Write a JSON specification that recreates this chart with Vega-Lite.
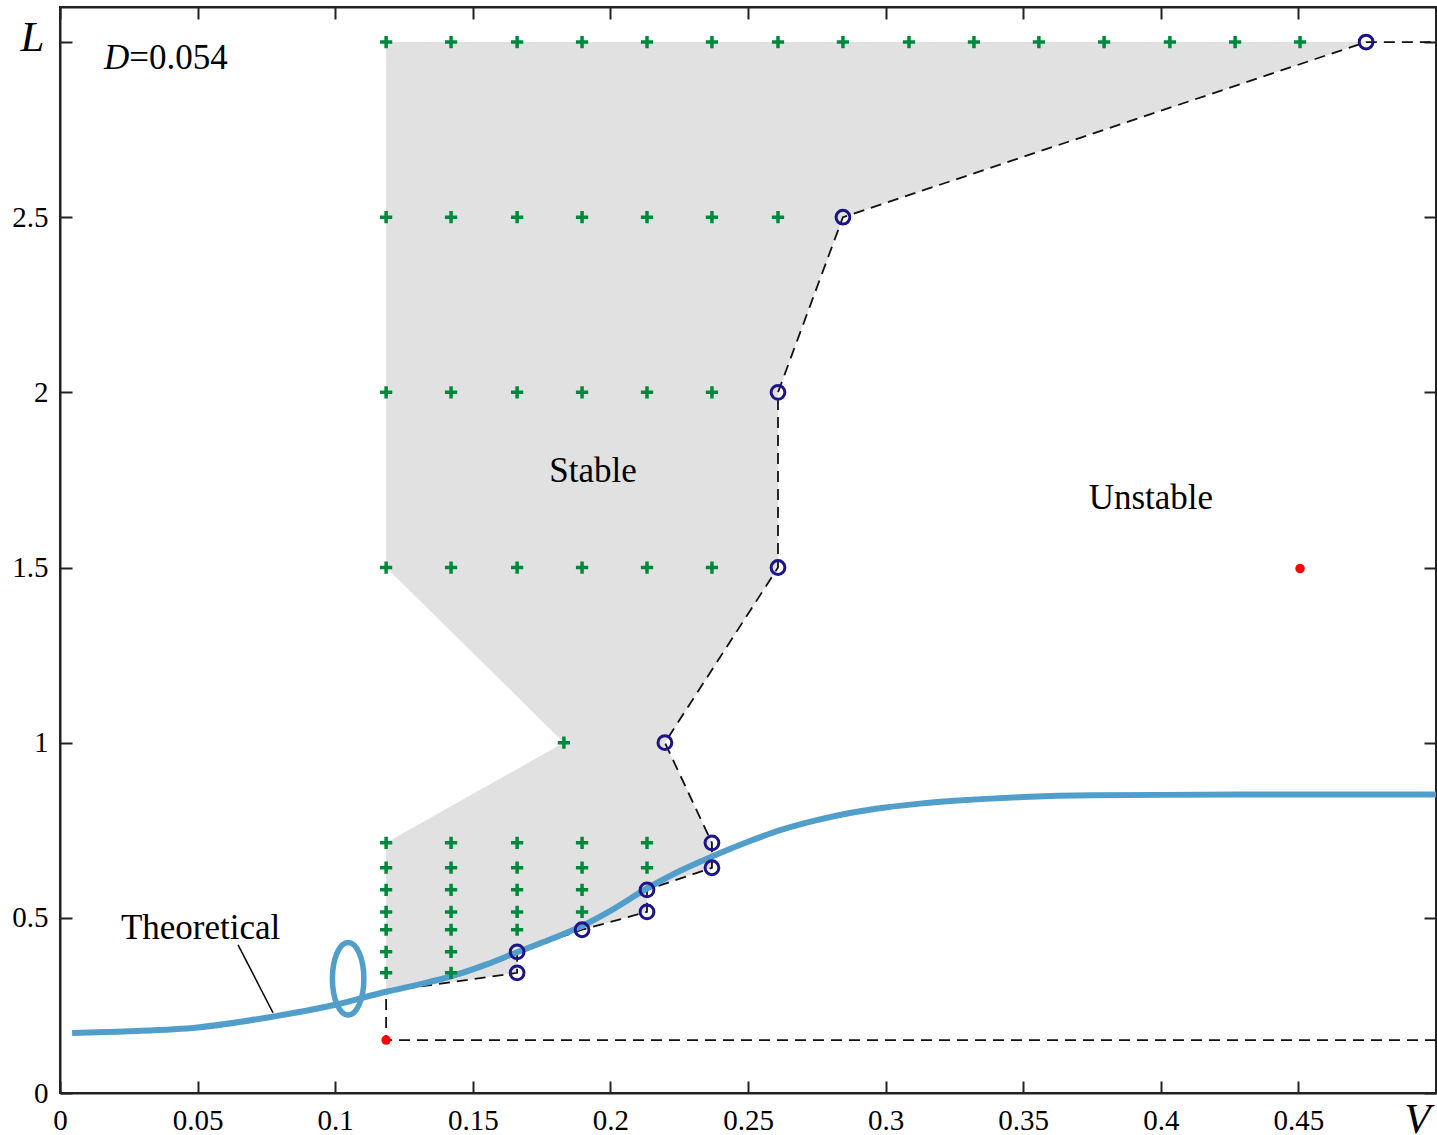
{
  "$schema": "https://vega.github.io/schema/vega-lite/v6.json",
  "width": 1376,
  "height": 1086,
  "autosize": "none",
  "padding": {"left": 60, "top": 7, "right": 1, "bottom": 42},
  "background": "white",
  "config": {
    "view": {"stroke": "#222222", "strokeWidth": 2},
    "axis": {"grid": false, "domainColor": "#222222", "domainWidth": 2, "tickColor": "#222222", "tickWidth": 2, "tickSize": -12,
      "labelFont": "Liberation Serif", "labelFontSize": 29, "labelColor": "#000000", "labelFlush": false, "labelOverlap": false,
      "titleFont": "Liberation Serif", "titleFontStyle": "italic", "titleFontWeight": "normal", "titleFontSize": 43, "titleColor": "#000000"}
  },
  "datasets": {
    "plus": [
      {"V": 0.1185, "L": 3.0}, {"V": 0.1421, "L": 3.0}, {"V": 0.1661, "L": 3.0}, {"V": 0.1897, "L": 3.0}, {"V": 0.2133, "L": 3.0},
      {"V": 0.2369, "L": 3.0}, {"V": 0.2609, "L": 3.0}, {"V": 0.2845, "L": 3.0}, {"V": 0.3085, "L": 3.0}, {"V": 0.3321, "L": 3.0},
      {"V": 0.3557, "L": 3.0}, {"V": 0.3794, "L": 3.0}, {"V": 0.4033, "L": 3.0}, {"V": 0.427, "L": 3.0}, {"V": 0.4506, "L": 3.0},
      {"V": 0.1185, "L": 2.5}, {"V": 0.1421, "L": 2.5}, {"V": 0.1661, "L": 2.5}, {"V": 0.1897, "L": 2.5}, {"V": 0.2133, "L": 2.5},
      {"V": 0.2369, "L": 2.5}, {"V": 0.2609, "L": 2.5},
      {"V": 0.1185, "L": 2.0}, {"V": 0.1421, "L": 2.0}, {"V": 0.1661, "L": 2.0}, {"V": 0.1897, "L": 2.0}, {"V": 0.2133, "L": 2.0},
      {"V": 0.2369, "L": 2.0},
      {"V": 0.1185, "L": 1.5}, {"V": 0.1421, "L": 1.5}, {"V": 0.1661, "L": 1.5}, {"V": 0.1897, "L": 1.5}, {"V": 0.2133, "L": 1.5},
      {"V": 0.2369, "L": 1.5},
      {"V": 0.1831, "L": 1.0},
      {"V": 0.1185, "L": 0.714}, {"V": 0.1421, "L": 0.714}, {"V": 0.1661, "L": 0.714}, {"V": 0.1897, "L": 0.714}, {"V": 0.2133, "L": 0.714},
      {"V": 0.1185, "L": 0.643}, {"V": 0.1421, "L": 0.643}, {"V": 0.1661, "L": 0.643}, {"V": 0.1897, "L": 0.643}, {"V": 0.2133, "L": 0.643},
      {"V": 0.1185, "L": 0.58}, {"V": 0.1421, "L": 0.58}, {"V": 0.1661, "L": 0.58}, {"V": 0.1897, "L": 0.58},
      {"V": 0.1185, "L": 0.517}, {"V": 0.1421, "L": 0.517}, {"V": 0.1661, "L": 0.517}, {"V": 0.1897, "L": 0.517},
      {"V": 0.1185, "L": 0.466}, {"V": 0.1421, "L": 0.466}, {"V": 0.1661, "L": 0.466},
      {"V": 0.1185, "L": 0.403}, {"V": 0.1421, "L": 0.403},
      {"V": 0.1185, "L": 0.343}, {"V": 0.1421, "L": 0.343}
    ],
    "circ": [
      {"V": 0.4746, "L": 3.0}, {"V": 0.2845, "L": 2.5}, {"V": 0.2609, "L": 2.0}, {"V": 0.2609, "L": 1.5}, {"V": 0.2198, "L": 1.0},
      {"V": 0.2369, "L": 0.714}, {"V": 0.2369, "L": 0.643}, {"V": 0.2133, "L": 0.58}, {"V": 0.2133, "L": 0.517},
      {"V": 0.1897, "L": 0.466}, {"V": 0.1661, "L": 0.403}, {"V": 0.1661, "L": 0.343}
    ],
    "red": [{"V": 0.1185, "L": 0.151}, {"V": 0.4506, "L": 1.497}],
    "dash": [
      {"o": 1, "V": 0.5, "L": 0.151}, {"o": 2, "V": 0.1185, "L": 0.151}, {"o": 3, "V": 0.1185, "L": 0.29},
      {"o": 4, "V": 0.1661, "L": 0.343}, {"o": 5, "V": 0.1661, "L": 0.403}, {"o": 6, "V": 0.1897, "L": 0.466},
      {"o": 7, "V": 0.2133, "L": 0.517}, {"o": 8, "V": 0.2133, "L": 0.58}, {"o": 9, "V": 0.2369, "L": 0.643},
      {"o": 10, "V": 0.2369, "L": 0.714}, {"o": 11, "V": 0.2198, "L": 1.0}, {"o": 12, "V": 0.2609, "L": 1.5},
      {"o": 13, "V": 0.2609, "L": 2.0}, {"o": 14, "V": 0.2845, "L": 2.5}, {"o": 15, "V": 0.4746, "L": 3.0},
      {"o": 16, "V": 0.5, "L": 3.0}
    ],
    "region": [
      {"L": 0.29, "left": 0.1185, "right": 0.1185}, {"L": 0.343, "left": 0.1185, "right": 0.1661},
      {"L": 0.403, "left": 0.1185, "right": 0.1661}, {"L": 0.466, "left": 0.1185, "right": 0.1897},
      {"L": 0.517, "left": 0.1185, "right": 0.2133}, {"L": 0.58, "left": 0.1185, "right": 0.2133},
      {"L": 0.643, "left": 0.1185, "right": 0.2369}, {"L": 0.714, "left": 0.1185, "right": 0.2369},
      {"L": 1.0, "left": 0.1831, "right": 0.2198}, {"L": 1.5, "left": 0.1185, "right": 0.2609},
      {"L": 2.0, "left": 0.1185, "right": 0.2609}, {"L": 2.5, "left": 0.1185, "right": 0.2845},
      {"L": 3.0, "left": 0.1185, "right": 0.4746}
    ],
    "theory": [
      {"V": 0.0044, "L": 0.171}, {"V": 0.025, "L": 0.176}, {"V": 0.05, "L": 0.187}, {"V": 0.075, "L": 0.215},
      {"V": 0.1, "L": 0.252}, {"V": 0.1185, "L": 0.289}, {"V": 0.131, "L": 0.311}, {"V": 0.143, "L": 0.335},
      {"V": 0.155, "L": 0.367}, {"V": 0.1661, "L": 0.402}, {"V": 0.178, "L": 0.438}, {"V": 0.1897, "L": 0.477},
      {"V": 0.2, "L": 0.52}, {"V": 0.2133, "L": 0.584}, {"V": 0.225, "L": 0.633}, {"V": 0.2369, "L": 0.675},
      {"V": 0.25, "L": 0.717}, {"V": 0.262, "L": 0.751}, {"V": 0.275, "L": 0.779}, {"V": 0.2875, "L": 0.8},
      {"V": 0.3, "L": 0.815}, {"V": 0.3125, "L": 0.826}, {"V": 0.325, "L": 0.834}, {"V": 0.35, "L": 0.845},
      {"V": 0.375, "L": 0.85}, {"V": 0.4, "L": 0.851}, {"V": 0.45, "L": 0.852}, {"V": 0.5, "L": 0.852}
    ],
    "pointer": [{"o": 1, "V": 0.0647, "L": 0.423}, {"o": 2, "V": 0.0774, "L": 0.229}],
    "loop": [{"V": 0.1047, "L": 0.326}]
  },
  "layer": [
    {
      "data": {"name": "region"},
      "mark": {"type": "area", "orient": "horizontal", "color": "#e1e1e1", "opacity": 1},
      "encoding": {
        "y": {"field": "L", "type": "quantitative", "scale": {"domain": [0, 3.1], "nice": false},
          "axis": {"orient": "left", "values": [0, 0.5, 1, 1.5, 2, 2.5, 3], "format": "~g", "labelExpr": "datum.value > 2.9 ? '' : datum.label",
            "labelPadding": 24, "title": "L", "titleAngle": 0, "titleX": -28, "titleY": 43, "titleAlign": "center", "titleBaseline": "alphabetic"}},
        "x": {"field": "left", "type": "quantitative", "scale": {"domain": [0, 0.5], "nice": false},
          "axis": {"orient": "bottom", "values": [0, 0.05, 0.1, 0.15, 0.2, 0.25, 0.3, 0.35, 0.4, 0.45, 0.5], "format": "~g",
            "labelExpr": "datum.value > 0.49 ? '' : datum.label", "labelPadding": 25,
            "title": "V", "titleX": 1357, "titleY": 39, "titleAlign": "center", "titleBaseline": "alphabetic"}},
        "x2": {"field": "right"}
      }
    },
    {
      "data": {"name": "dash"},
      "mark": {"type": "line", "color": "#111111", "strokeWidth": 1.8, "strokeDash": [11, 7]},
      "encoding": {
        "x": {"field": "V", "type": "quantitative", "scale": {"domain": [0, 0.5], "nice": false},
          "axis": {"orient": "top", "values": [0, 0.05, 0.1, 0.15, 0.2, 0.25, 0.3, 0.35, 0.4, 0.45, 0.5], "labels": false, "title": null}},
        "y": {"field": "L", "type": "quantitative", "scale": {"domain": [0, 3.1], "nice": false},
          "axis": {"orient": "right", "values": [0, 0.5, 1, 1.5, 2, 2.5, 3], "labels": false, "title": null}},
        "order": {"field": "o", "type": "quantitative"}
      }
    },
    {
      "data": {"name": "theory"},
      "mark": {"type": "line", "color": "#519ecb", "strokeWidth": 6, "interpolate": "monotone"},
      "encoding": {
        "x": {"field": "V", "type": "quantitative", "scale": {"domain": [0, 0.5], "nice": false}, "axis": null},
        "y": {"field": "L", "type": "quantitative", "scale": {"domain": [0, 3.1], "nice": false}, "axis": null}
      }
    },
    {
      "data": {"name": "loop"},
      "mark": {"type": "point", "shape": "M0,-1A0.434,1,0,1,1,0,1A0.434,1,0,1,1,0,-1Z", "size": 5256, "filled": false, "stroke": "#519ecb", "strokeWidth": 5.5, "opacity": 1},
      "encoding": {
        "x": {"field": "V", "type": "quantitative", "scale": {"domain": [0, 0.5], "nice": false}, "axis": null},
        "y": {"field": "L", "type": "quantitative", "scale": {"domain": [0, 3.1], "nice": false}, "axis": null}
      }
    },
    {
      "data": {"name": "pointer"},
      "mark": {"type": "line", "color": "#000000", "strokeWidth": 1.5},
      "encoding": {
        "x": {"field": "V", "type": "quantitative", "scale": {"domain": [0, 0.5], "nice": false}, "axis": null},
        "y": {"field": "L", "type": "quantitative", "scale": {"domain": [0, 3.1], "nice": false}, "axis": null},
        "order": {"field": "o", "type": "quantitative"}
      }
    },
    {
      "data": {"name": "plus"},
      "mark": {"type": "point", "shape": "M-1,0H1M0,-1V1", "size": 150, "filled": false, "stroke": "#00893c", "strokeWidth": 3.5, "opacity": 1},
      "encoding": {
        "x": {"field": "V", "type": "quantitative", "scale": {"domain": [0, 0.5], "nice": false}, "axis": null},
        "y": {"field": "L", "type": "quantitative", "scale": {"domain": [0, 3.1], "nice": false}, "axis": null}
      }
    },
    {
      "data": {"name": "circ"},
      "mark": {"type": "point", "shape": "circle", "size": 190, "filled": false, "stroke": "#1c1488", "strokeWidth": 3, "opacity": 1},
      "encoding": {
        "x": {"field": "V", "type": "quantitative", "scale": {"domain": [0, 0.5], "nice": false}, "axis": null},
        "y": {"field": "L", "type": "quantitative", "scale": {"domain": [0, 3.1], "nice": false}, "axis": null}
      }
    },
    {
      "data": {"name": "red"},
      "mark": {"type": "point", "shape": "circle", "size": 90, "filled": true, "fill": "#ff0000", "strokeWidth": 0, "opacity": 1},
      "encoding": {
        "x": {"field": "V", "type": "quantitative", "scale": {"domain": [0, 0.5], "nice": false}, "axis": null},
        "y": {"field": "L", "type": "quantitative", "scale": {"domain": [0, 3.1], "nice": false}, "axis": null}
      }
    },
    {
      "data": {"values": [{"V": 0.016, "L": 2.923, "t": "D"}]},
      "mark": {"type": "text", "font": "Liberation Serif", "fontSize": 35, "fontStyle": "italic", "align": "left", "baseline": "alphabetic", "color": "#000000"},
      "encoding": {
        "x": {"field": "V", "type": "quantitative", "scale": {"domain": [0, 0.5], "nice": false}, "axis": null},
        "y": {"field": "L", "type": "quantitative", "scale": {"domain": [0, 3.1], "nice": false}, "axis": null},
        "text": {"field": "t"}
      }
    },
    {
      "data": {"values": [{"V": 0.0252, "L": 2.923, "t": "=0.054"}]},
      "mark": {"type": "text", "font": "Liberation Serif", "fontSize": 35, "align": "left", "baseline": "alphabetic", "color": "#000000"},
      "encoding": {
        "x": {"field": "V", "type": "quantitative", "scale": {"domain": [0, 0.5], "nice": false}, "axis": null},
        "y": {"field": "L", "type": "quantitative", "scale": {"domain": [0, 3.1], "nice": false}, "axis": null},
        "text": {"field": "t"}
      }
    },
    {
      "data": {"values": [{"V": 0.1937, "L": 1.743, "t": "Stable"}, {"V": 0.3964, "L": 1.666, "t": "Unstable"}, {"V": 0.0511, "L": 0.44, "t": "Theoretical"}]},
      "mark": {"type": "text", "font": "Liberation Serif", "fontSize": 35, "align": "center", "baseline": "alphabetic", "color": "#000000"},
      "encoding": {
        "x": {"field": "V", "type": "quantitative", "scale": {"domain": [0, 0.5], "nice": false}, "axis": null},
        "y": {"field": "L", "type": "quantitative", "scale": {"domain": [0, 3.1], "nice": false}, "axis": null},
        "text": {"field": "t"}
      }
    }
  ]
}
